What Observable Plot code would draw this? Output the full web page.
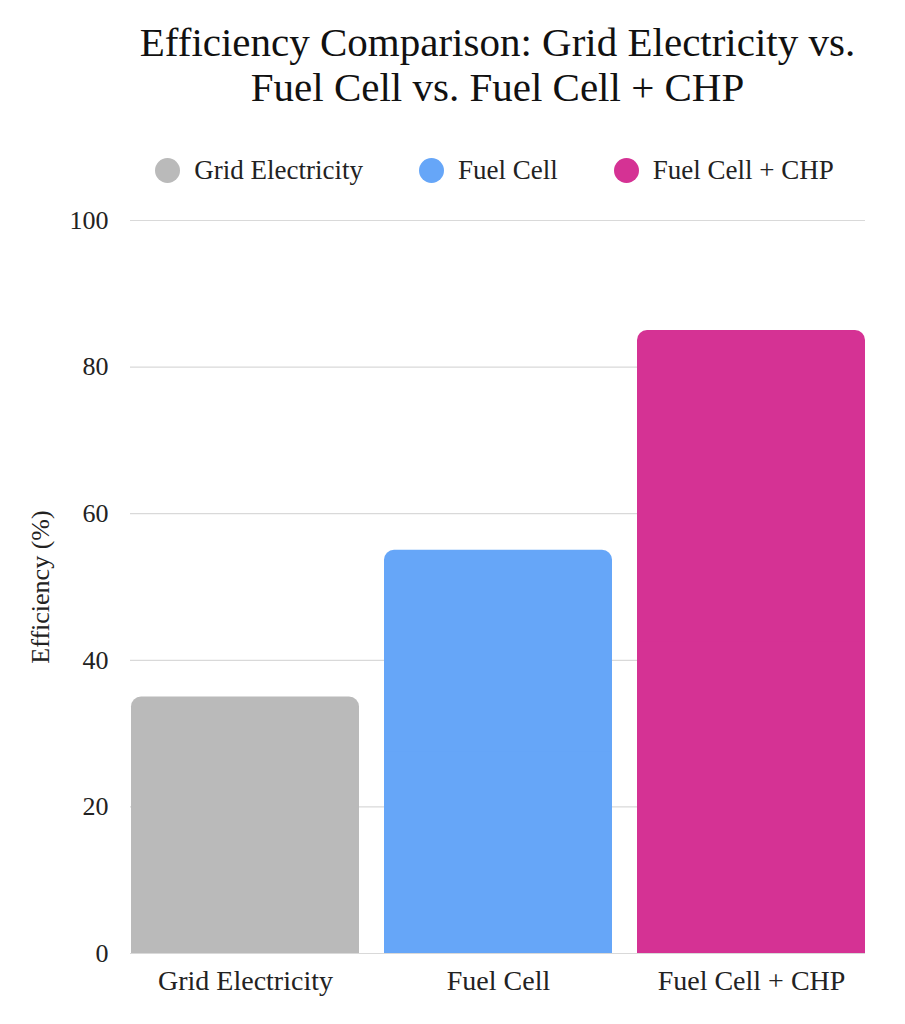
<!DOCTYPE html>
<html>
<head>
<meta charset="utf-8">
<script src="https://cdn.jsdelivr.net/npm/d3@7"></script>
<script src="https://cdn.jsdelivr.net/npm/@observablehq/plot@0.6"></script>
<style>
  body { margin: 0; background: #fff; font-family: "Liberation Serif", serif; color: #111; }
  #wrap { width: 905px; }
  #title { height: 136px; box-sizing: border-box; padding: 20px 30px 0 120px; text-align: center; font-size: 41px; line-height: 45px; color: #111; white-space: nowrap; }
  #legend { height: 64px; box-sizing: border-box; padding: 5px 40px 0 124px; display: flex; justify-content: center; gap: 56px; font-size: 27px; color: #222; }
  .item { display: flex; align-items: center; gap: 14px; }
  .dot { width: 25px; height: 25px; border-radius: 50%; display: inline-block; }
</style>
</head>
<body>
<div id="wrap">
  <div id="title">Efficiency Comparison: Grid Electricity vs.<br>Fuel Cell vs. Fuel Cell + CHP</div>
  <div id="legend"></div>
  <div id="chart"></div>
</div>
<script>
const categories = ["Grid Electricity", "Fuel Cell", "Fuel Cell + CHP"];
const efficiency = [35, 55, 85];
const colors = ["#bababa", "#66a6f8", "#d53294"];
const yTicks = [0, 20, 40, 60, 80, 100];

const data = categories.map((c, i) => ({category: c, value: efficiency[i], color: colors[i]}));

const legend = document.getElementById("legend");
categories.forEach((c, i) => {
  const it = document.createElement("div");
  it.className = "item";
  it.innerHTML = `<span class="dot" style="background:${colors[i]}"></span><span>${c}</span>`;
  legend.appendChild(it);
});

const chart = Plot.plot({
  width: 905,
  height: 824,
  marginTop: 20,
  marginLeft: 130,
  marginRight: 40,
  marginBottom: 71,
  style: { fontFamily: "Liberation Serif, serif", fontSize: "26px", color: "#222", background: "#fff" },
  x: { domain: categories, paddingInner: 0.1, paddingOuter: 0 },
  y: { domain: [0, 100] },
  marks: [
    Plot.gridY(yTicks, { stroke: "#d9d9d9", strokeOpacity: 1, strokeWidth: 1.2 }),
    Plot.barY(data, { x: "category", y: "value", fill: "color", rx: 10 }),
    Plot.barY(data, { x: "category", y: d => d.value / 2, fill: "color" }),
    Plot.ruleY([0], { stroke: "#d9d9d9" }),
    Plot.axisY(yTicks, { tickSize: 0, tickPadding: 22, label: "Efficiency (%)", labelAnchor: "center", labelArrow: "none", labelOffset: 100 }),
    Plot.axisX({ tickSize: 0, tickPadding: 17, fontSize: 28, label: null })
  ]
});
document.getElementById("chart").appendChild(chart);
</script>
</body>
</html>
